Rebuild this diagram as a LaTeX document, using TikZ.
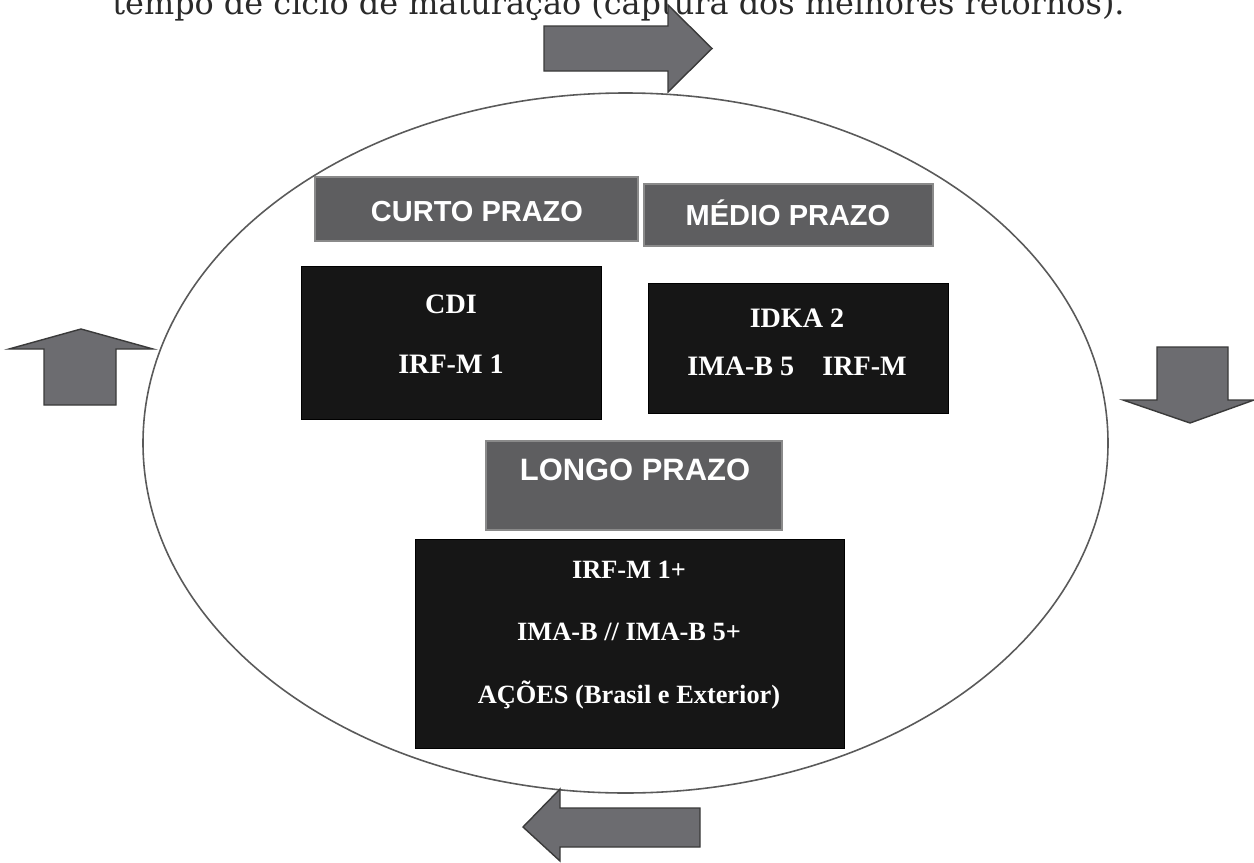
\documentclass[tikz,border=0pt]{standalone}
\usepackage{fontspec}
\usepackage{graphicx}
\setmainfont{Liberation Serif}
\newfontfamily\hsans{Liberation Sans}
\newfontfamily\capfont{DejaVu Serif}
\usetikzlibrary{fit}
\definecolor{headgray}{HTML}{5E5E60}
\definecolor{headedge}{HTML}{8A8A8A}
\definecolor{darkfill}{HTML}{161616}
\definecolor{arrowgray}{HTML}{6C6C70}
\definecolor{arrowedge}{HTML}{3A3A3A}
\definecolor{ringcol}{HTML}{5A5A5A}
\definecolor{captxt}{HTML}{2A2A2A}
\begin{document}
\begin{tikzpicture}[x=0.02cm,y=-0.02cm,
  headbox/.style={draw=headedge, line width=0.6pt, fill=headgray, inner sep=0pt},
  darkbox/.style={draw=black, line width=0.4pt, fill=darkfill, inner sep=0pt},
  headtxt/.style={text=white, font=\hsans\bfseries\fontsize{16.5}{18}\selectfont, anchor=base, inner sep=0pt},
  longtxt/.style={headtxt, font=\hsans\bfseries\fontsize{17.6}{20}\selectfont},
  boxtxt/.style={text=white, font=\bfseries\fontsize{16}{18}\selectfont, anchor=base, inner sep=0pt},
  bigtxt/.style={text=white, font=\bfseries\fontsize{15}{18}\selectfont, anchor=base, inner sep=0pt},
  arrowshape/.style={fill=arrowgray, draw=arrowedge, line width=0.8pt, line join=miter},
  ring/.style={draw=ringcol, line width=0.9pt}]
\useasboundingbox (0,0) rectangle (1254,862);
\clip (0,0) rectangle (1254,862);
\fill[white] (0,0) rectangle (1254,862);

% caption line, cut at the top edge as in the scan
\node[anchor=base west, inner sep=0pt, text=captxt] (caption) at (112,14)
  {\resizebox{20.25cm}{!}{\capfont tempo de ciclo de maturação (captura dos melhores retornos).}};

% ring
\draw[ring] (625.5,443) ellipse [x radius=482.5, y radius=350];

% arrows
\draw[arrowshape] (544,26) -- (668,26) -- (668,5) -- (712,48.5) -- (668,92) -- (668,71) -- (544,71) -- cycle;
\draw[arrowshape] (44,405) -- (44,349) -- (9,349) -- (81,329) -- (153,349) -- (116,349) -- (116,405) -- cycle;
\draw[arrowshape] (1157,347) -- (1228,347) -- (1228,400) -- (1254,400) -- (1190,423) -- (1123,400) -- (1157,400) -- cycle;
\draw[arrowshape] (700,808) -- (560,808) -- (560,789) -- (523,827) -- (560,861) -- (560,847) -- (700,847) -- cycle;

% heading boxes
\node[headbox, fit={(315,177) (638,241)}] (curto) {};
\node[headbox, fit={(644,184) (933,246)}] (medio) {};
\node[headbox, fit={(486,441) (782,530)}] (longo) {};

% dark boxes
\node[darkbox, fit={(301,266) (601,419)}] (curtobox) {};
\node[darkbox, fit={(648,283) (948,413)}] (mediobox) {};
\node[darkbox, fit={(415,539) (844,748)}] (longobox) {};

% texts
\node[headtxt] (curtotxt) at (477,221) {CURTO PRAZO};
\node[headtxt] (mediotxt) at (788,225) {MÉDIO PRAZO};
\node[longtxt] (longotxt) at (635,480) {LONGO PRAZO};

\node[boxtxt] (cdi) at (451,313) {CDI};
\node[boxtxt] (irfm1) at (451,373) {IRF-M 1};
\node[boxtxt] (idka) at (797,327) {IDKA 2};
\node[boxtxt] (imab5) at (797,375) {IMA-B 5\hspace{1em}IRF-M};

\node[bigtxt] (irfm1p) at (629,578) {IRF-M 1+};
\node[bigtxt] (imab) at (629,640) {IMA-B // IMA-B 5+};
\node[bigtxt] (acoes) at (629,703) {AÇÕES (Brasil e Exterior)};
\end{tikzpicture}
\end{document}
